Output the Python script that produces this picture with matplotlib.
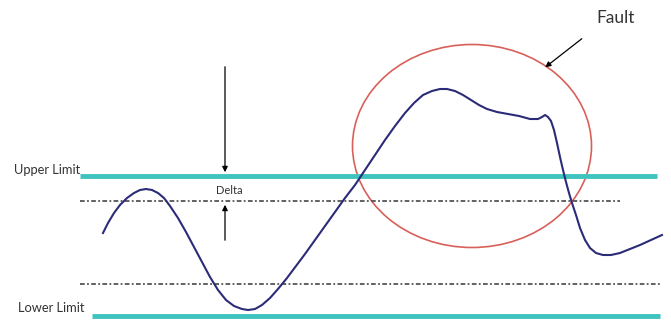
import matplotlib
matplotlib.use("Agg")
import matplotlib.pyplot as plt
from matplotlib.patches import Ellipse

# signal trace (pixel coords, y down)
sig_x = [103, 108, 114, 120, 127, 134, 140, 146, 152, 158, 164, 170, 178, 186, 194,
         202, 210, 218, 226, 234, 242, 248, 255, 262, 270, 278, 287, 296, 305, 315,
         325, 335, 345, 355, 365, 375, 385, 395, 405, 414, 423, 432, 440, 447, 455,
         463, 471, 479, 487, 497, 508, 519, 530, 538, 542, 545, 548, 551, 554, 557,
         560, 563, 566, 569, 572, 576, 580, 585, 590, 596, 603, 611, 620, 630, 640,
         651, 662]
sig_y = [233, 223, 213, 205, 198, 193, 190, 189, 190, 193, 198, 206, 218, 232, 247,
         262, 277, 290, 300, 306, 309, 310, 309, 305, 298, 289, 278, 266, 254, 240,
         226, 212, 198, 185, 170, 155, 140, 126, 113, 103, 95, 91, 89, 89, 91,
         95, 100, 105, 109, 112, 114, 116, 119, 119, 117, 115, 117, 121, 130, 143,
         157, 170, 182, 193, 203, 215, 228, 240, 248, 253, 255, 255, 253, 249, 245,
         240, 235]

upper_limit = 176
lower_limit = 316
upper_band = 201
lower_band = 284

fig = plt.figure(figsize=(6.71, 3.25), dpi=100)
ax = fig.add_axes([0, 0, 1, 1])
ax.set_xlim(0, 671)
ax.set_ylim(325, 0)
ax.axis("off")

teal = "#3fc3bf"
ax.plot([80, 657], [upper_limit, upper_limit], color=teal, lw=3.5, solid_capstyle="butt")
ax.plot([92, 660], [lower_limit, lower_limit], color=teal, lw=3.5, solid_capstyle="butt")
dd = dict(color="#555555", lw=1.3, dashes=(2.6, 1.3, 1.0, 1.3))
ax.plot([80, 620], [upper_band, upper_band], **dd)
ax.plot([80, 660], [lower_band, lower_band], **dd)

ax.plot(sig_x, sig_y, color="#2b2b78", lw=1.5, solid_joinstyle="round")

ax.add_patch(Ellipse((472, 146), 239, 203, fill=False, ec="#d9605a", lw=1.2))

arr = dict(arrowstyle="-|>", color="black", lw=0.9, mutation_scale=8)
ax.annotate("", xy=(225, upper_limit - 1), xytext=(225, 64), arrowprops=arr)
ax.annotate("", xy=(225, upper_band + 1), xytext=(225, 243), arrowprops=arr)
ax.annotate("", xy=(543, 69), xytext=(584, 37), arrowprops=arr)

font = "Lato"
ax.text(14, 170, "Upper Limit", fontsize=9.3, family=font, va="center", color="#333333")
ax.text(18, 308, "Lower Limit", fontsize=9.3, family=font, va="center", color="#333333")
ax.text(229, 190, "Delta", fontsize=8, family=font, va="center", ha="center", color="#333333")
ax.text(596, 18, "Fault", fontsize=12.5, family=font, va="center", color="#333333")

fig.savefig("out.png", dpi=100)
